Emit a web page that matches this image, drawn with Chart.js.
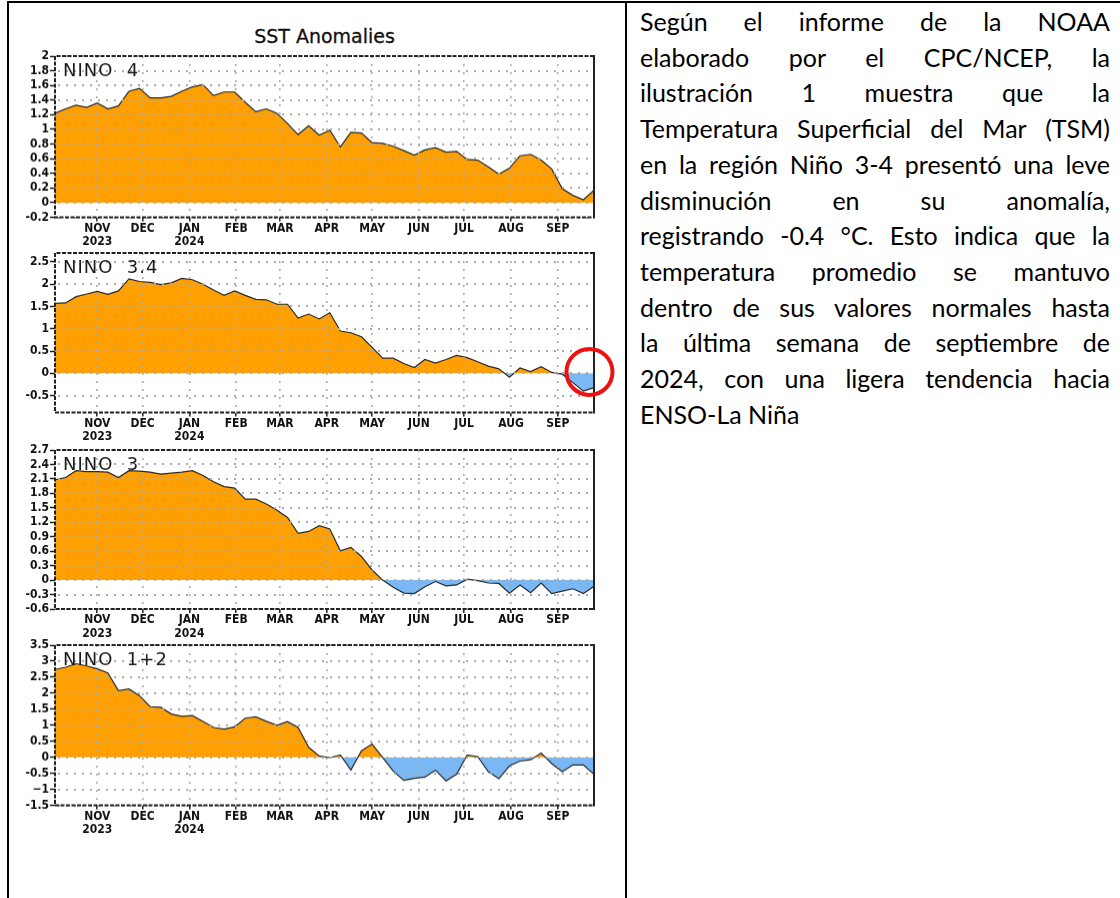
<!DOCTYPE html>
<html lang="es">
<head>
<meta charset="utf-8">
<title>SST Anomalies</title>
<script src="https://cdn.jsdelivr.net/npm/chart.js@4.4.1/dist/chart.umd.min.js"></script>
<style>
  html, body { margin: 0; padding: 0; background: #fff; }
  body { width: 1120px; height: 898px; position: relative; overflow: hidden; }
  .linea { position: absolute; background: #000; }
  #titulo { position: absolute; left: 0; width: 649px; top: 25px; text-align: center;
            font: 19px 'DejaVu Sans', sans-serif; color: #111; line-height: 22px;
            -webkit-text-stroke: 0.3px #111; }
  .panel { position: absolute; left: 0; width: 626px; }
  #texto { position: absolute; left: 640px; top: 4px; width: 470px;
           font-family: Lato, 'Open Sans', sans-serif; font-size: 25px; line-height: 35.7px; color: #000; }
  #texto div { text-align: justify; text-align-last: justify; white-space: nowrap; }
  #texto div.ultima { text-align-last: left; }
</style>
</head>
<body>
<div class="linea" style="left:7px;top:1px;width:1113px;height:2px"></div>
<div class="linea" style="left:7px;top:1px;width:2px;height:897px"></div>
<div class="linea" style="left:625px;top:1px;width:2px;height:897px"></div>

<div id="titulo">SST Anomalies</div>

<div class="panel" id="p1"><canvas id="c1"></canvas></div>
<div class="panel" id="p2"><canvas id="c2"></canvas></div>
<div class="panel" id="p3"><canvas id="c3"></canvas></div>
<div class="panel" id="p4"><canvas id="c4"></canvas></div>

<div id="texto">
  <div>Según el informe de la NOAA</div>
  <div>elaborado por el CPC/NCEP, la</div>
  <div>ilustración 1 muestra que la</div>
  <div>Temperatura Superficial del Mar (TSM)</div>
  <div>en la región Niño 3-4 presentó una leve</div>
  <div>disminución en su anomalía,</div>
  <div>registrando -0.4 °C. Esto indica que la</div>
  <div>temperatura promedio se mantuvo</div>
  <div>dentro de sus valores normales hasta</div>
  <div>la última semana de septiembre de</div>
  <div>2024, con una ligera tendencia hacia</div>
  <div class="ultima">ENSO-La Niña</div>
</div>

<script>
// Semanas (miércoles) desde el 4 oct 2023 hasta el 25 sep 2024
const inicioSemanas = '2023-10-04';
const finSemanas = '2024-09-25';

// Meses del eje x
const mesesFechas = ['2023-11-01', '2023-12-01', '2024-01-01', '2024-02-01', '2024-03-01', '2024-04-01',
                     '2024-05-01', '2024-06-01', '2024-07-01', '2024-08-01', '2024-09-01'];
const mesesEtiquetas = [['NOV', '2023'], 'DEC', ['JAN', '2024'], 'FEB', 'MAR', 'APR',
                        'MAY', 'JUN', 'JUL', 'AUG', 'SEP'];

// Anomalías semanales de TSM (°C)
const nino4 = [1.22, 1.28, 1.33, 1.30, 1.36, 1.28, 1.32, 1.52, 1.56, 1.43,
               1.43, 1.45, 1.52, 1.58, 1.61, 1.46, 1.51, 1.51, 1.37, 1.24,
               1.28, 1.22, 1.08, 0.93, 1.05, 0.92, 0.99, 0.76, 0.96, 0.95,
               0.82, 0.81, 0.77, 0.71, 0.65, 0.72, 0.75, 0.69, 0.70, 0.59,
               0.58, 0.49, 0.39, 0.47, 0.64, 0.66, 0.58, 0.46, 0.19, 0.10,
               0.04, 0.17];
const nino34 = [1.57, 1.58, 1.72, 1.78, 1.84, 1.77, 1.85, 2.12, 2.06, 2.04,
                1.99, 2.03, 2.13, 2.10, 2.00, 1.87, 1.75, 1.85, 1.75, 1.66,
                1.65, 1.55, 1.55, 1.24, 1.33, 1.22, 1.36, 0.95, 0.91, 0.82,
                0.58, 0.34, 0.34, 0.22, 0.13, 0.31, 0.23, 0.31, 0.40, 0.35,
                0.26, 0.16, 0.10, -0.09, 0.12, 0.04, 0.15, 0.02, -0.02, -0.21,
                -0.40, -0.32];
const nino3 = [2.08, 2.13, 2.27, 2.25, 2.25, 2.24, 2.13, 2.27, 2.26, 2.24,
               2.20, 2.22, 2.24, 2.27, 2.17, 2.04, 1.94, 1.91, 1.68, 1.68,
               1.58, 1.45, 1.30, 0.97, 1.01, 1.13, 1.06, 0.61, 0.68, 0.49,
               0.21, 0.00, -0.15, -0.27, -0.28, -0.14, -0.03, -0.12, -0.10, 0.02,
               -0.01, -0.06, -0.07, -0.27, -0.10, -0.26, -0.06, -0.28, -0.23, -0.18,
               -0.28, -0.13];
const nino12 = [2.74, 2.81, 2.92, 2.85, 2.76, 2.63, 2.08, 2.13, 1.92, 1.58,
                1.56, 1.35, 1.28, 1.30, 1.12, 0.93, 0.88, 0.95, 1.22, 1.26,
                1.12, 1.00, 1.11, 0.93, 0.31, 0.04, -0.01, 0.07, -0.40, 0.20,
                0.41, -0.01, -0.43, -0.72, -0.66, -0.62, -0.40, -0.74, -0.53, 0.07,
                0.02, -0.45, -0.67, -0.27, -0.12, -0.08, 0.13, -0.20, -0.45, -0.24,
                -0.24, -0.53];

// Marcas del eje y
const ticksNino4 = [-0.2, 0, 0.2, 0.4, 0.6, 0.8, 1, 1.2, 1.4, 1.6, 1.8, 2];
const ticksNino34 = [-0.5, 0, 0.5, 1, 1.5, 2, 2.5];
const ticksNino3 = [-0.6, -0.3, 0, 0.3, 0.6, 0.9, 1.2, 1.5, 1.8, 2.1, 2.4, 2.7];
const ticksNino12 = [-1.5, -1, -0.5, 0, 0.5, 1, 1.5, 2, 2.5, 3, 3.5];

const NARANJA = 'rgb(255,160,0)';
const AZUL = 'rgb(122,184,245)';
const GRIS_REJILLA = '#ababab';

function dias(fecha) {
  return (Date.parse(fecha + 'T00:00:00Z') - Date.parse(inicioSemanas + 'T00:00:00Z')) / 86400000;
}
const diasMeses = mesesFechas.map(dias);

// rejilla horizontal punteada, marco, nombre de la región y círculo rojo
const marcoPlugin = {
  id: 'marco',
  afterDraw(chart, args, opts) {
    const ctx = chart.ctx;
    const a = chart.chartArea;
    const ys = chart.scales.y;
    ctx.save();

    // líneas horizontales punteadas en cada marca del eje y
    ctx.fillStyle = GRIS_REJILLA;
    ys.getTicks().forEach(t => {
      const py = Math.round(ys.getPixelForValue(t.value));
      for (let px = a.left + 3; px < a.right - 1; px += 8) {
        ctx.fillRect(px, py - 1, 2, 2);
      }
    });

    ctx.font = '18px "DejaVu Sans"';
    ctx.letterSpacing = '1px';
    ctx.fillStyle = '#1a1a1a';
    ctx.textBaseline = 'middle';
    ctx.fillText(opts.texto, a.left + 8, a.top + 15.5);
    ctx.letterSpacing = '0px';

    ctx.strokeStyle = '#222';
    ctx.lineWidth = 2;
    ctx.setLineDash([4, 1.5]);
    ctx.beginPath();
    ctx.moveTo(a.right, a.top);
    ctx.lineTo(a.left, a.top);
    ctx.lineTo(a.left, a.bottom);
    ctx.lineTo(a.right, a.bottom);
    ctx.stroke();
    ctx.setLineDash([]);
    ctx.beginPath();
    ctx.moveTo(a.right, a.top - 1);
    ctx.lineTo(a.right, a.bottom + 1);
    ctx.stroke();

    if (opts.circulo) {
      const cx = chart.scales.x.getPixelForValue(opts.circulo.x);
      const cy = ys.getPixelForValue(opts.circulo.y);
      ctx.strokeStyle = '#ee1111';
      ctx.lineWidth = 4;
      ctx.beginPath();
      ctx.arc(cx, cy, 23, 0, Math.PI * 2);
      ctx.stroke();
    }
    ctx.restore();
  }
};

Chart.defaults.font.family = "'DejaVu Sans Condensed', 'DejaVu Sans', sans-serif";
Chart.defaults.font.size = 12;
Chart.defaults.font.weight = 'bold';
Chart.defaults.color = '#111';

const paneles = [
  { id: 'c1', caja: 'p1', texto: 'NINO  4', valores: nino4, marcas: ticksNino4, min: -0.2, max: 2, top: 56, alto: 160.5 },
  { id: 'c2', caja: 'p2', texto: 'NINO  3.4', valores: nino34, marcas: ticksNino34, min: -0.88, max: 2.7, top: 252.5, alto: 159.5,
    circulo: { x: 354, y: 0.03 } },
  { id: 'c3', caja: 'p3', texto: 'NINO  3', valores: nino3, marcas: ticksNino3, min: -0.6, max: 2.7, top: 449.5, alto: 159 },
  { id: 'c4', caja: 'p4', texto: 'NINO  1+2', valores: nino12, marcas: ticksNino12, min: -1.5, max: 3.5, top: 645, alto: 159.5 }
];

paneles.forEach(p => {
  const caja = document.getElementById(p.caja);
  caja.style.top = (p.top - 10) + 'px';
  caja.style.height = (p.alto + 50) + 'px';

  const puntos = p.valores.map((v, i) => ({ x: i * 7, y: v }));

  new Chart(document.getElementById(p.id), {
    type: 'line',
    data: {
      datasets: [{
        data: puntos,
        borderColor: '#2a2a2a',
        borderWidth: 1.2,
        pointRadius: 0,
        tension: 0,
        fill: { target: 'origin', above: NARANJA, below: AZUL }
      }]
    },
    options: {
      responsive: true,
      maintainAspectRatio: false,
      animation: false,
      layout: { padding: { top: 10, left: 0, right: 32, bottom: 0 } },
      plugins: {
        legend: { display: false },
        tooltip: { enabled: false },
        marco: { texto: p.texto, circulo: p.circulo }
      },
      scales: {
        x: {
          type: 'linear',
          min: 0,
          max: dias(finSemanas),
          afterFit: s => { s.height = 40; },
          afterBuildTicks: s => { s.ticks = diasMeses.map(v => ({ value: v })); },
          border: { display: false, dash: [2, 6] },
          grid: { z: 1, color: GRIS_REJILLA, lineWidth: 1.6, tickLength: 4, tickColor: '#222', tickWidth: 1.5, tickBorderDash: [] },
          ticks: {
            autoSkip: false, maxRotation: 0, padding: 0,
            font: { lineHeight: 1.15 },
            callback: (v, i) => mesesEtiquetas[i]
          }
        },
        y: {
          min: p.min,
          max: p.max,
          afterFit: s => { s.width = 55; },
          afterBuildTicks: s => { s.ticks = p.marcas.map(v => ({ value: v })); },
          border: { display: false },
          grid: { drawOnChartArea: false, tickLength: 5, tickColor: '#222', tickWidth: 1.5, tickBorderDash: [] },
          ticks: {
            autoSkip: false,
            padding: 1,
            callback: v => v === -1 ? '\u22121' : String(Math.round(v * 10) / 10)
          }
        }
      }
    },
    plugins: [marcoPlugin]
  });
});
</script>
</body>
</html>
